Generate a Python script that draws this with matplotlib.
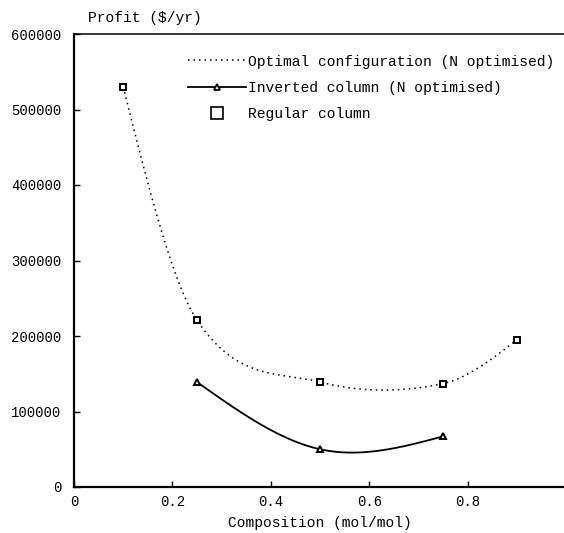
import numpy as np
import matplotlib
matplotlib.use("Agg")
import matplotlib.pyplot as plt
from matplotlib.lines import Line2D

plt.rcParams['font.family'] = ['Liberation Mono', 'DejaVu Sans Mono']

# data
comp_opt = [0.10, 0.25, 0.50, 0.75, 0.90]
profit_opt = [530000, 221000, 139000, 137000, 195000]

comp_inv = [0.25, 0.50, 0.75]
profit_inv = [139000, 50000, 67000]

xticks = [0, 0.2, 0.4, 0.6, 0.8]
xticklabels = ['0', '0.2', '0.4', '0.6', '0.8']
yticks = [0, 100000, 200000, 300000, 400000, 500000, 600000]


def smooth(x, y, n=300):
    # cardinal (Catmull-Rom type) spline through the points
    x = np.asarray(x, float)
    y = np.asarray(y, float)
    sec = np.diff(y) / np.diff(x)
    m = np.empty_like(y)
    m[1:-1] = (y[2:] - y[:-2]) / (x[2:] - x[:-2])
    m[0] = 1.5 * sec[0] - 0.5 * m[1]
    m[-1] = 1.5 * sec[-1] - 0.5 * m[-2]
    xs = np.linspace(x[0], x[-1], n)
    i = np.clip(np.searchsorted(x, xs) - 1, 0, len(x) - 2)
    h = x[i + 1] - x[i]
    t = (xs - x[i]) / h
    h00 = 2 * t**3 - 3 * t**2 + 1
    h10 = t**3 - 2 * t**2 + t
    h01 = -2 * t**3 + 3 * t**2
    h11 = t**3 - t**2
    ys = h00 * y[i] + h10 * h * m[i] + h01 * y[i + 1] + h11 * h * m[i + 1]
    return xs, ys


fig = plt.figure(figsize=(5.64, 5.33), dpi=100)
ax = fig.add_axes([74 / 564, 1 - 487 / 533, 492 / 564, (487 - 34) / 533])

xs, ys = smooth(comp_opt, profit_opt)
ax.plot(xs, ys, color='black', lw=1.1, linestyle=(0, (1, 2.6)))
ax.plot(comp_opt, profit_opt, linestyle='none', marker='s', ms=5,
        mfc='white', mec='black', mew=1.4)

xs2, ys2 = smooth(comp_inv, profit_inv)
ax.plot(xs2, ys2, color='black', lw=1.3)
ax.plot(comp_inv, profit_inv, linestyle='none', marker='^', ms=5,
        mfc='white', mec='black', mew=1.4)

ax.set_xlim(0, 1)
ax.set_ylim(0, 600000)
ax.set_xticks(xticks)
ax.set_xticklabels(xticklabels, fontsize=10)
ax.set_yticks(yticks)
ax.set_yticklabels([str(v) for v in yticks], fontsize=10)
ax.tick_params(direction='in', length=4, width=1, pad=9)
ax.tick_params(axis='x', pad=6)
for s in ['left', 'bottom']:
    ax.spines[s].set_linewidth(1.6)
ax.spines['top'].set_linewidth(1.1)
ax.spines['right'].set_visible(False)

ax.set_xlabel('Composition (mol/mol)', fontsize=10.5, labelpad=5)
fig.text(88 / 564, 1 - 18 / 533, 'Profit ($/yr)', fontsize=10.5,
         ha='left', va='center')

handles = [
    Line2D([], [], color='black', lw=1.1, linestyle=(0, (1, 2.6))),
    Line2D([], [], color='black', lw=1.3, marker='^', ms=5, mfc='white',
           mec='black', mew=1.3),
    Line2D([], [], linestyle='none', marker='s', ms=8, mfc='white',
           mec='black', mew=1.2),
]
labels = ['Optimal configuration (N optimised)',
          'Inverted column (N optimised)',
          'Regular column']
ax.legend(handles, labels, loc='center left',
          bbox_to_anchor=(188 / 564, 1 - 88 / 533),
          bbox_transform=fig.transFigure, frameon=False, fontsize=10.5,
          handlelength=4.0, handletextpad=0.1, labelspacing=0.85,
          borderpad=0, borderaxespad=0)

fig.savefig('out.png', dpi=100)
